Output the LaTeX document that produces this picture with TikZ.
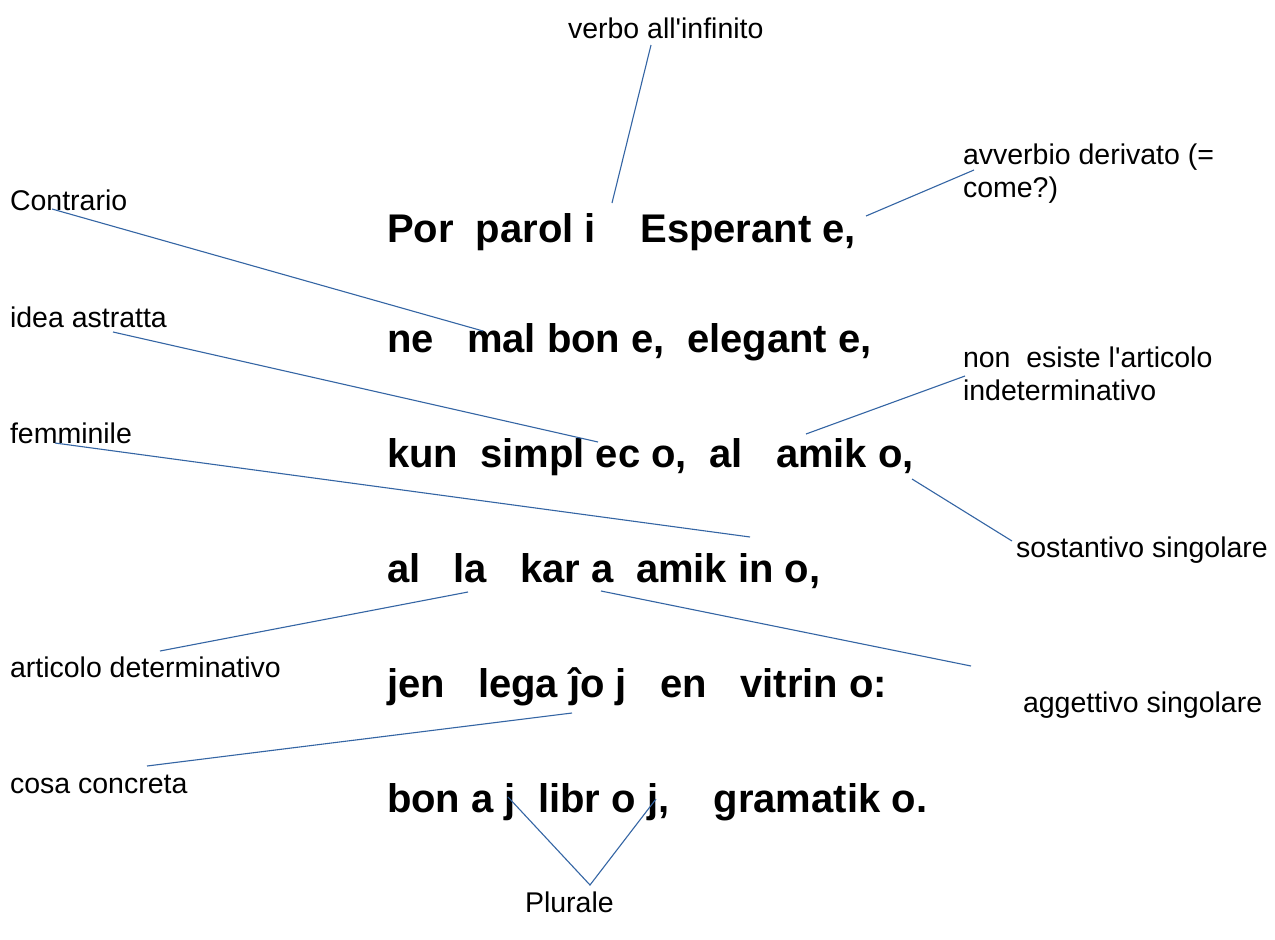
\documentclass[tikz,border=0pt]{standalone}
\usepackage{fontspec}
\setmainfont{Liberation Sans}[Ligatures=TeXOff]
\definecolor{lineblue}{HTML}{3465A4}
\tikzset{
  lbl/.style={font=\fontsize{28.5}{33}\selectfont, anchor=base west, inner sep=0pt, outer sep=0pt},
  lbltwo/.style={font=\fontsize{28.5}{33}\selectfont, anchor=north west, align=left, inner sep=0pt, outer sep=0pt},
  rowtext/.style={font=\fontsize{40}{44}\selectfont\bfseries, anchor=base west, inner sep=0pt, outer sep=0pt},
  conn/.style={draw=lineblue, line width=1.1pt}
}
\begin{document}
\begin{tikzpicture}[x=1pt,y=-1pt]
\useasboundingbox (0,0) rectangle (1275,940);
\fill[white] (0,0) rectangle (1275,940);

% Esperanto rows
\node[rowtext] (r1) at (387,242) {Por\ \ parol\ i\ \ \ \ Esperant\ e,};
\node[rowtext] (r2) at (387,352) {ne\ \ \ mal\ bon\ e,\ \ elegant\ e,};
\node[rowtext] (r3) at (387,467) {kun\ \ simpl\ ec\ o,\ \ al\ \ \ amik\ o,};
\node[rowtext] (r4) at (387,582) {al\ \ \ la\ \ \ kar\ a\ \ amik\ in\ o,};
\node[rowtext] (r5) at (387,697) {jen\ \ \ lega\ ĵo\ j\ \ \ en\ \ \ vitrin\ o:};
\node[rowtext] (r6) at (387,812) {bon\ a\ j\ \ libr\ o\ j,\ \ \ \ gramatik\ o.};

% labels
\node[lbl] (verbo) at (568,38) {verbo all'infinito};
\node[lbltwo] (avverbio) at (963,144) {avverbio derivato (=\\come?)};
\node[lbl] (contrario) at (10,210) {Contrario};
\node[lbl] (idea) at (10,327) {idea astratta};
\node[lbl] (femminile) at (10,443) {femminile};
\node[lbltwo] (nonesiste) at (963,347) {non\ \ esiste l'articolo\\indeterminativo};
\node[lbl] (sostantivo) at (1016,557) {sostantivo singolare};
\node[lbl] (articolo) at (10,677) {articolo determinativo};
\node[lbl] (aggettivo) at (1023,712) {aggettivo singolare};
\node[lbl] (cosa) at (10,793) {cosa concreta};
\node[lbl] (plurale) at (525,912) {Plurale};

% connector end points
\coordinate (verboA) at (651,45);
\coordinate (verboB) at (612,203);
\coordinate (avvA) at (974,170);
\coordinate (avvB) at (866,216);
\coordinate (contrA) at (52,209);
\coordinate (contrB) at (483,331);
\coordinate (ideaA) at (113,332);
\coordinate (ideaB) at (598,442);
\coordinate (nonA) at (965,376);
\coordinate (nonB) at (806,434);
\coordinate (femA) at (55,443);
\coordinate (femB) at (750,537);
\coordinate (sostA) at (1012,541);
\coordinate (sostB) at (912,479);
\coordinate (artA) at (160,651);
\coordinate (artB) at (468,592);
\coordinate (aggA) at (971,666);
\coordinate (aggB) at (601,591);
\coordinate (cosaA) at (147,766);
\coordinate (cosaB) at (572,713);
\coordinate (plL) at (508,797);
\coordinate (plApex) at (590,885);
\coordinate (plR) at (656,799);

\draw[conn] (verboA) -- (verboB);
\draw[conn] (avvA) -- (avvB);
\draw[conn] (contrA) -- (contrB);
\draw[conn] (ideaA) -- (ideaB);
\draw[conn] (nonA) -- (nonB);
\draw[conn] (femA) -- (femB);
\draw[conn] (sostA) -- (sostB);
\draw[conn] (artA) -- (artB);
\draw[conn] (aggA) -- (aggB);
\draw[conn] (cosaA) -- (cosaB);
\draw[conn] (plL) -- (plApex) -- (plR);
\end{tikzpicture}
\end{document}
